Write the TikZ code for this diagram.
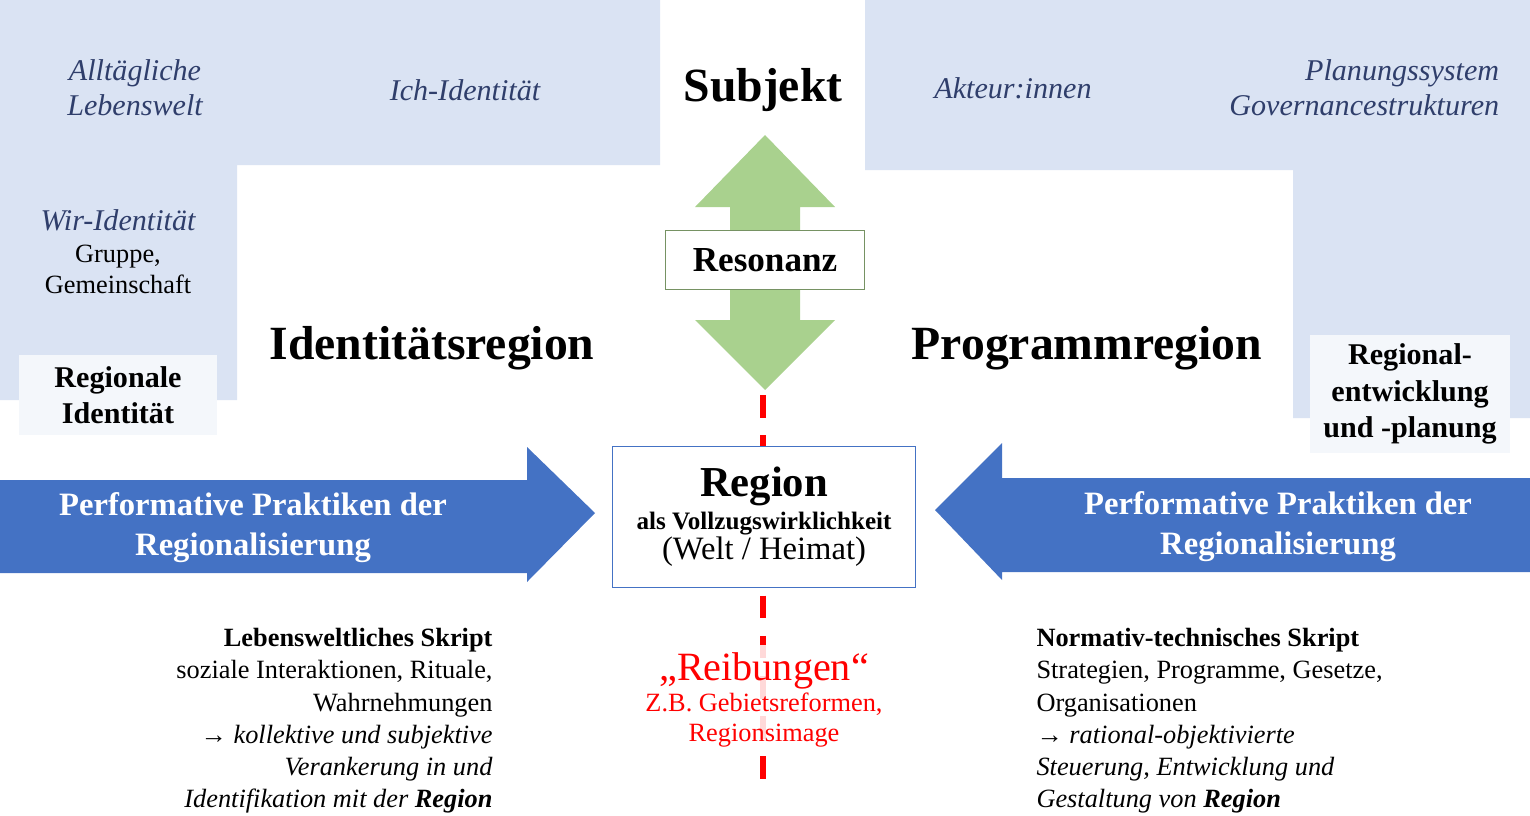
\documentclass[tikz,border=0pt]{standalone}
\usepackage{fontspec}
\setmainfont{Liberation Serif}
\begin{document}
\begin{tikzpicture}[x=0.014cm,y=-0.014cm]
	\definecolor{paleblue}{HTML}{DAE3F3}
	\definecolor{darkblue}{HTML}{4472C4}
	\definecolor{leaf}{HTML}{A9D18E}
	\definecolor{navy}{HTML}{2F3E6B}
	\tikzstyle{field} = [fill=paleblue, draw=none];
	\tikzstyle{tag} = [font={\fontsize{12}{14}\selectfont\itshape}, text=navy, align=center];
	\tikzstyle{plain} = [font={\fontsize{10.5}{12.5}\selectfont}, align=center];
	\tikzstyle{title} = [font={\fontsize{19}{23}\selectfont\bfseries}];
	\tikzstyle{arrowtxt} = [font={\fontsize{13}{16}\selectfont\bfseries}, text=white, align=center];
	\tikzstyle{script} = [font={\fontsize{10.5}{12.8}\selectfont}];

	\useasboundingbox (0,0) rectangle (1530,815);

	% blue fields
	\fill[field] (0,0) -- (660,0) -- (660,165) -- (237,165) -- (237,400) -- (0,400) -- cycle;
	\fill[field] (865,0) -- (1530,0) -- (1530,418) -- (1293,418) -- (1293,170) -- (865,170) -- cycle;
	\node[fill=white!70!paleblue, minimum width=2.77cm, minimum height=1.12cm, plain,
		font={\fontsize{12}{14.5}\selectfont\bfseries}] (regid) at (118,395) {Regionale\\Identität};
	\node[fill=white!70!paleblue, minimum width=2.8cm, minimum height=1.58cm, plain,
		font={\fontsize{12}{14.5}\selectfont\bfseries}] (regent) at (1410,394) {Regional-\\entwicklung\\und -planung};

	\node[tag] (alltag) at (135,88) {Alltägliche\\Lebenswelt};
	\node[tag] (ich) at (465,90) {Ich-Identität};
	\node[tag] (akteur) at (1013,88) {Akteur:innen};
	\node[tag, align=right, anchor=east] (plan) at (1508,88) {Planungssystem\\Governancestrukturen};
	\node[plain, align=center] (wir) at (118,252) {{\fontsize{12}{14}\selectfont\itshape\color{navy}Wir-Identität}\\Gruppe,\\Gemeinschaft};

	\node[title] (subjekt) at (763,90) {Subjekt};
	\node[title] (identreg) at (432,348) {Identitätsregion};
	\node[title] (progreg) at (1087,348) {Programmregion};

	% resonance arrow
	\fill[leaf] (765,135) -- (835,207) -- (800,207) -- (800,320) -- (835,320) -- (765,390)
		-- (695,320) -- (730,320) -- (730,207) -- (695,207) -- cycle;
	\node[draw=leaf!70!black, fill=white, minimum width=2.8cm, minimum height=0.84cm,
		font={\fontsize{14}{17}\selectfont\bfseries}] (reso) at (765,260) {Resonanz};

	% practice arrows
	\fill[darkblue] (0,480) -- (527,480) -- (527,447) -- (595,513) -- (527,582) -- (527,573) -- (0,573) -- cycle;
	\fill[darkblue] (1530,478) -- (1002,478) -- (1002,443) -- (935,510) -- (1002,580) -- (1002,572) -- (1530,572) -- cycle;
	\node[arrowtxt] (prakl) at (253,528) {Performative Praktiken der\\Regionalisierung};
	\node[arrowtxt] (prakr) at (1278,527) {Performative Praktiken der\\Regionalisierung};

	% friction line
	\coordinate (lineTop) at (763,395);
	\coordinate (lineBot) at (763,790);
	\draw[red, line width=2.5pt, dash pattern=on 9pt off 7pt] (lineTop) -- (lineBot);

	\node[draw=darkblue, fill=white, minimum width=4.24cm, minimum height=1.97cm, align=center, inner sep=1pt] (region) at (764,517)
		{{\fontsize{17}{20}\selectfont\bfseries Region}\\[1pt]
		 {\fontsize{10}{13}\selectfont\bfseries als Vollzugswirklichkeit}\\
		 {\fontsize{13}{16}\selectfont (Welt / Heimat)}};

	\node[fill=white, fill opacity=0.85, text opacity=1, align=center, text=red, minimum width=4.16cm] (reib) at (764,700)
		{{\fontsize{16}{19}\selectfont „Reibungen“}\\
		 {\fontsize{10.5}{12.8}\selectfont Z.B. Gebietsreformen,}\\
		 {\fontsize{10.5}{12.8}\selectfont Regionsimage}};

	\node[script, align=right, anchor=north east, inner sep=0pt] (lebskript) at (493,628)
		{\textbf{Lebensweltliches Skript}\\
		 soziale Interaktionen, Rituale,\\
		 Wahrnehmungen\\
		 \textit{→ kollektive und subjektive}\\
		 \textit{Verankerung in und}\\
		 \textit{Identifikation mit der \textbf{Region}}};
	\node[script, align=left, anchor=north west, inner sep=0pt] (normskript) at (1036,628)
		{\textbf{Normativ-technisches Skript}\\
		 Strategien, Programme, Gesetze,\\
		 Organisationen\\
		 \textit{→ rational-objektivierte}\\
		 \textit{Steuerung, Entwicklung und}\\
		 \textit{Gestaltung von \textbf{Region}}};
\end{tikzpicture}
\end{document}
